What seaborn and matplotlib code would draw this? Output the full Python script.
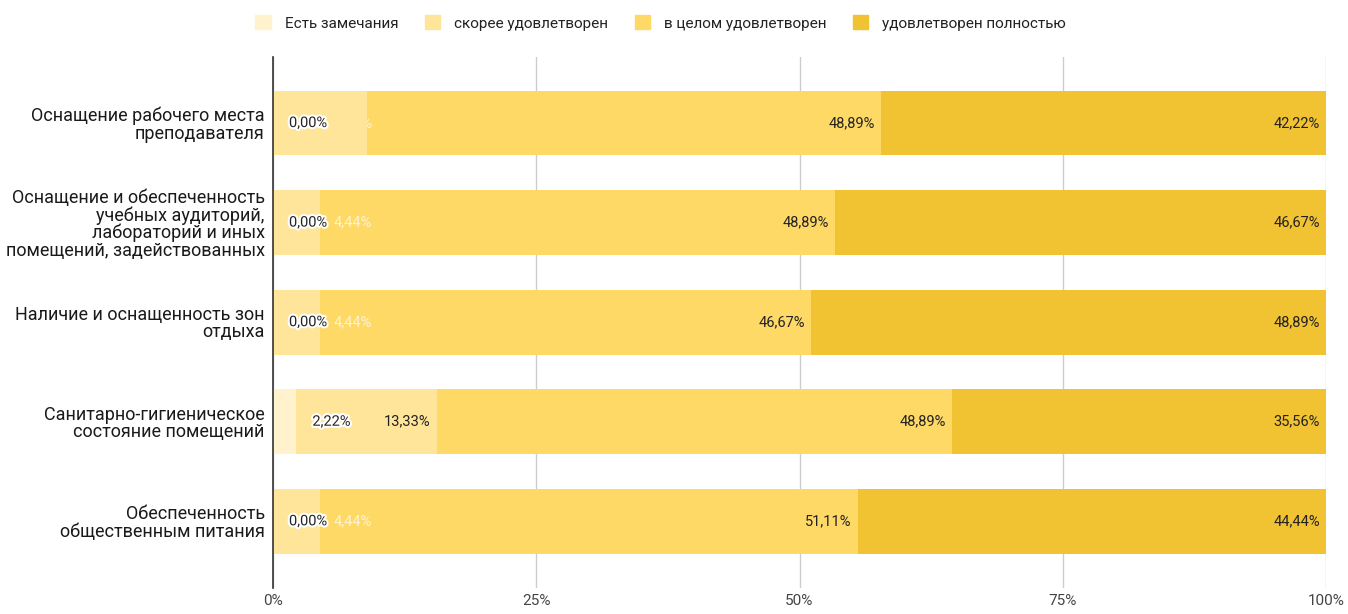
import numpy as np
import pandas as pd
import matplotlib
matplotlib.use("Agg")
import matplotlib.pyplot as plt
import matplotlib.patheffects as pe
from matplotlib.patches import Patch, Rectangle
import seaborn as sns

categories = [
    "Оснащение рабочего места\nпреподавателя",
    "Оснащение и обеспеченность\nучебных аудиторий,\nлабораторий и иных\nпомещений, задействованных",
    "Наличие и оснащенность зон\nотдыха",
    "Санитарно-гигиеническое\nсостояние помещений",
    "Обеспеченность\nобщественным питания",
]
series_names = ["Есть замечания", "скорее удовлетворен", "в целом удовлетворен", "удовлетворен полностью"]
remarks = [0.00, 0.00, 0.00, 2.22, 0.00]
rather = [8.89, 4.44, 4.44, 13.33, 4.44]
overall = [48.89, 48.89, 46.67, 48.89, 51.11]
fully = [42.22, 46.67, 48.89, 35.56, 44.44]
colors = ["#fff2cc", "#ffe599", "#ffd966", "#f1c232"]

sns.set_theme(style="white")
plt.rcParams["font.family"] = ["Roboto", "DejaVu Sans"]

vals = np.array([remarks, rather, overall, fully])
cum = vals.cumsum(axis=0)
df = pd.DataFrame({"cat": categories})

fig = plt.figure(figsize=(13.48, 6.14), dpi=100)
ax = fig.add_axes([273 / 1348, 1 - 588 / 614, 1053 / 1348, (588 - 57) / 614])

# stacked bars: draw the running totals from the largest down
for i in range(3, -1, -1):
    df["v"] = cum[i]
    sns.barplot(data=df, x="v", y="cat", orient="h", color=colors[i],
                saturation=1, width=0.65, linewidth=0, ax=ax, zorder=2)

ax.set_xlim(0, 100)
ax.set_ylim(4.67, -0.663)
ax.set_xticks([0, 25, 50, 75, 100])
ax.set_xticklabels(["0%", "25%", "50%", "75%", "100%"], fontsize=11, color="#444444")
ax.tick_params(axis="x", length=0, pad=4)
ax.tick_params(axis="y", length=0, pad=6)
for t in ax.get_yticklabels():
    t.set_fontsize(13)
    t.set_color("#1a1a1a")
    t.set_horizontalalignment("right")
    t.set_multialignment("right")
    t.set_linespacing(0.95)
ax.set_xlabel("")
ax.set_ylabel("")
ax.grid(axis="x", color="#cccccc", linewidth=1, zorder=0)
ax.set_axisbelow(True)
for s in ["top", "right", "bottom"]:
    ax.spines[s].set_visible(False)
ax.spines["left"].set_color("#333333")
ax.spines["left"].set_linewidth(1.2)
ax.spines["left"].set_zorder(5)

# data labels
pxp = 1053 / 100.0  # pixels per percent
lab_w = 45 / pxp
halo = [pe.withStroke(linewidth=3, foreground="white")]
for r in range(len(categories)):
    prev_right = None
    for i in range(4):
        v = vals[i][r]
        end = cum[i][r]
        txt = f"{v:.2f}".replace(".", ",") + "%"
        fits = v * pxp >= 45 + 12
        x0 = end - 6 / pxp - lab_w if fits else end + 16 / pxp
        if prev_right is not None and (not fits or x0 < prev_right):
            # collides with the previous label: pushed right, faint, hidden by its own segment
            x0 = max(x0, prev_right) if fits else prev_right
            t = ax.text(x0, r, txt, ha="left", va="center", fontsize=10.5,
                        color="white", alpha=0.7, zorder=3)
            t.set_clip_path(Rectangle((end, r - 0.5), 100, 1, transform=ax.transData))
            t.set_clip_on(True)
        elif fits:
            ax.text(end - 6 / pxp, r, txt, ha="right", va="center",
                    fontsize=10.5, color="#222222", zorder=4)
        else:
            ax.text(x0, r, txt, ha="left", va="center", fontsize=10.5,
                    color="#222222", path_effects=halo, zorder=4)
        prev_right = x0 + lab_w

handles = [Patch(facecolor=c, edgecolor=c, label=n) for c, n in zip(colors, series_names)]
fig.legend(handles=handles, loc="center", bbox_to_anchor=(0.49, 1 - 23 / 614), ncol=4,
           frameon=False, fontsize=11, handlelength=1.0, handleheight=1.0,
           handletextpad=0.9, columnspacing=1.75, labelcolor="#222222")

fig.savefig("out.png", dpi=100)
